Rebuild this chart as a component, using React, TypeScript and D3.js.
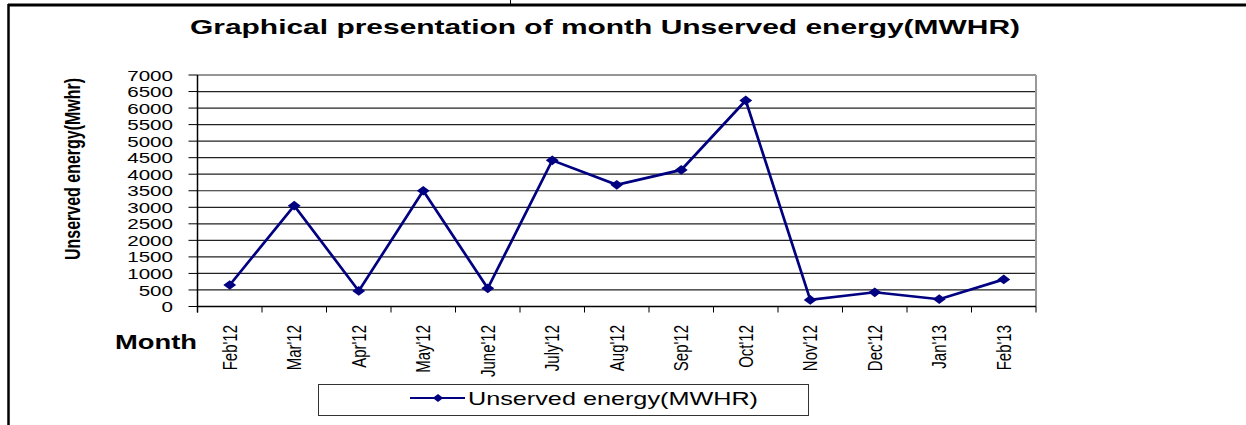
import React from "react"
import * as d3 from "d3"

const months = ["Feb'12", "Mar'12", "Apr'12", "May'12", "June'12", "July'12", "Aug'12", "Sep'12", "Oct'12", "Nov'12", "Dec'12", "Jan'13", "Feb'13"]
const unserved = [650, 3050, 470, 3500, 550, 4420, 3680, 4130, 6230, 200, 430, 220, 820]
const yTicks = d3.range(0, 7001, 500)

const W = 1246
const H = 425
const font = "'Liberation Sans', Arial, sans-serif"
// the original picture was stretched sideways, so text is widened by this much
const SX = 1.33

export default function App() {
  // plot area
  const left = 197.5
  const right = 1036
  const top = 75
  const bottom = 306.5

  const x = d3.scaleBand().domain(months).range([left, right])
  const y = d3.scaleLinear().domain([0, 7000]).range([bottom, top])
  const cx = (m: string) => x(m)! + x.bandwidth() / 2

  const line = d3.line<number>()
    .x((d, i) => cx(months[i]))
    .y(d => y(d))

  const diamond = d3.symbol().type(d3.symbolDiamond2).size(60)()

  return (
    <div style={{ position: "absolute", left: 0, top: 0 }}>
      <svg width={W} height={H} style={{ display: "block", fontFamily: font }}>
        <rect width={W} height={H} fill="#fff" />
        {/* outer frame, cut by the crop */}
        <line x1={8} x2={W} y1={5} y2={5} stroke="#000" strokeWidth={3} />
        <line x1={8.5} x2={8.5} y1={4} y2={H} stroke="#000" strokeWidth={2.5} />
        <line x1={510.5} x2={510.5} y1={0} y2={4} stroke="#000" />

        <text x={190} y={34} fontSize={21} fontWeight="bold" fill="#000" textLength={830} lengthAdjust="spacingAndGlyphs">
          Graphical presentation of month Unserved energy(MWHR)
        </text>

        {/* gridlines */}
        {yTicks.map(t => (
          <line key={t} x1={left} x2={right} y1={y(t)} y2={y(t)} stroke="#222" strokeWidth={1.2} />
        ))}
        <line x1={left} x2={right} y1={top} y2={top} stroke="#999" strokeWidth={1.5} />
        <line x1={right} x2={right} y1={top} y2={bottom} stroke="#999" strokeWidth={2} />

        {/* y axis */}
        <line x1={left} x2={left} y1={top} y2={bottom + 6} stroke="#000" strokeWidth={1.5} />
        {yTicks.map(t => (
          <g key={t}>
            <line x1={left - 9} x2={left} y1={y(t)} y2={y(t)} stroke="#000" />
            <text transform={`translate(173,${y(t)}) scale(${SX},1)`} dy="0.36em" textAnchor="end" fontSize={15.5} fill="#000">
              {t}
            </text>
          </g>
        ))}
        <text transform={`translate(80,169) rotate(-90) scale(1,${SX})`} textAnchor="middle" fontSize={16} fontWeight="bold" fill="#000">
          Unserved energy(Mwhr)
        </text>

        {/* x axis */}
        <line x1={left} x2={right} y1={bottom} y2={bottom} stroke="#000" strokeWidth={1.5} />
        {months.map(m => (
          <line key={"t" + m} x1={x(m)!} x2={x(m)!} y1={bottom} y2={bottom + 6} stroke="#000" />
        ))}
        <line x1={right} x2={right} y1={bottom} y2={bottom + 6} stroke="#000" />
        {months.map(m => (
          <text
            key={m}
            transform={`translate(${cx(m) + 7},325) rotate(-90) scale(1,${SX})`}
            textAnchor="end"
            fontSize={15}
            fill="#000"
          >
            {m}
          </text>
        ))}
        <text x={115} y={349} fontSize={21} fontWeight="bold" fill="#000" textLength={82} lengthAdjust="spacingAndGlyphs">Month</text>

        {/* series */}
        <path d={line(unserved)!} fill="none" stroke="#000080" strokeWidth={2.7} />
        {unserved.map((v, i) => (
          <path
            key={i}
            d={diamond!}
            transform={`translate(${cx(months[i])},${y(v)}) scale(${SX},1)`}
            fill="#000080"
          />
        ))}

        {/* legend */}
        <rect x={318.5} y={384.5} width={490} height={31} fill="#fff" stroke="#333" />
        <line x1={410} x2={465} y1={398} y2={398} stroke="#000080" strokeWidth={2} />
        <path d={d3.symbol().type(d3.symbolDiamond2).size(40)()!} transform={`translate(438,398) scale(${SX},1)`} fill="#000080" />
        <text x={468} y={405} fontSize={19} fill="#000" textLength={290} lengthAdjust="spacingAndGlyphs">Unserved energy(MWHR)</text>
      </svg>
    </div>
  )
}
